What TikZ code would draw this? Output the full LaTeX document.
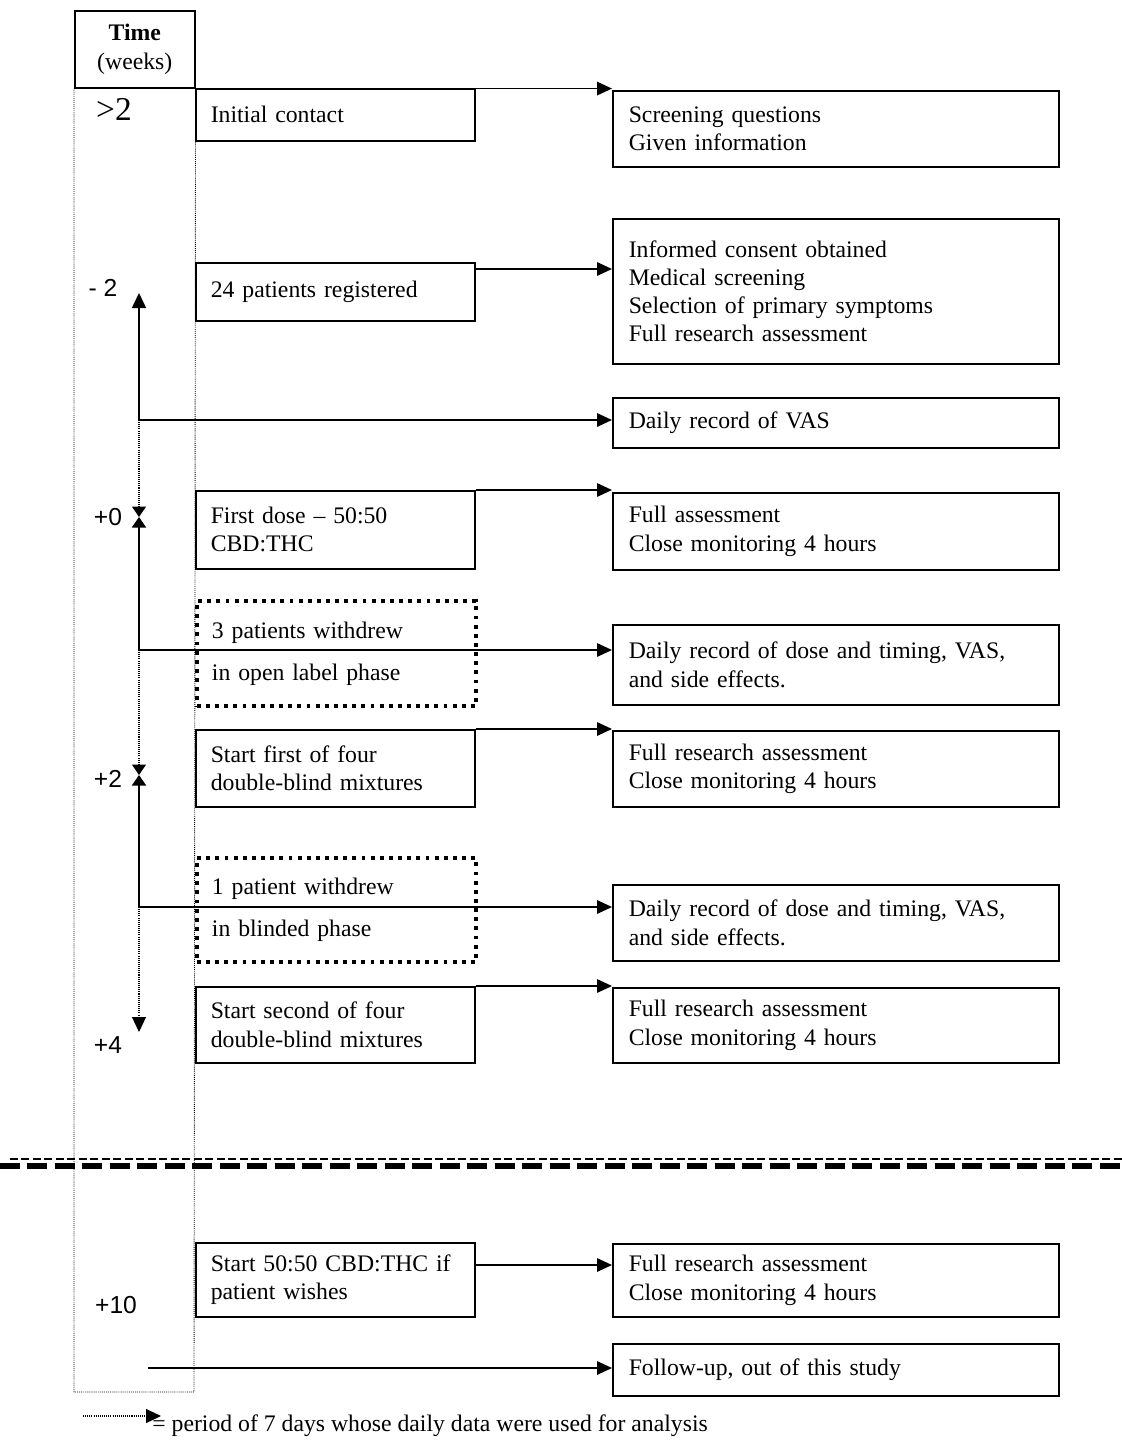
\documentclass[tikz,border=0pt]{standalone}
\usepackage{fontspec}
\setmainfont{Liberation Serif}
\newfontfamily\weekfont{Liberation Sans}
\usetikzlibrary{arrows.meta,calc,positioning}
\tikzset{
  boxtext/.style={font=\fontsize{13.5}{16}\selectfont},
  lbox/.style={boxtext, draw=black, line width=0.9pt, anchor=north west, align=left,
    text width=4.98cm, inner xsep=0.3cm, inner ysep=0pt, minimum height=#1},
  rbox/.style={boxtext, draw=black, line width=0.9pt, anchor=north west, align=left,
    text width=8.28cm, inner xsep=0.32cm, inner ysep=0pt, minimum height=#1},
  wbox/.style={lbox=#1, line width=2.2pt, dash pattern=on 2.2pt off 3pt},
  timehead/.style={boxtext, draw=black, line width=0.9pt, anchor=north west, align=center,
    minimum width=2.4cm, minimum height=1.54cm, inner sep=0pt},
  weeklabel/.style={font=\weekfont\fontsize{14}{16}\selectfont, inner sep=0pt},
  column/.style={line width=0.5pt, dash pattern=on 0.5pt off 0.6pt},
  harrow/.style={line width=0.9pt, -{Triangle[length=0.3cm,width=0.27cm]}},
  vline/.style={line width=0.9pt},
  period/.style={line width=0.6pt, dash pattern=on 0.6pt off 0.6pt},
  longtip/.style={-{Triangle[length=0.3cm,width=0.28cm]}},
  shorttip/.style={-{Triangle[length=0.21cm,width=0.28cm]}},
}
\begin{document}
\begin{tikzpicture}[x=0.02cm, y=-0.02cm]
\useasboundingbox (0,0) rectangle (1122,1440);

% the time column

    \node[timehead] (time) at (74,10) {\textbf{Time}\\(weeks)};
    \draw[column] (time.south west) -- (74,1392) -- (194,1392) -- (time.south east);

    \node[weeklabel, font=\fontsize{19}{21}\selectfont] (wgt) at (114,109) {>2};
    \node[weeklabel] (wm2) at (103,288) {- 2};
    \node[weeklabel] (w0) at (108,517) {+0};
    \node[weeklabel] (w2) at (108,779) {+2};
    \node[weeklabel] (w4) at (108,1045) {+4};
    \node[weeklabel] (w10) at (116,1305) {+10};

% events (left)

    \node[lbox=1.04cm] (init) at (195,88) {Initial contact};
    \node[lbox=1.16cm] (reg) at (195,262) {24 patients registered};
    \node[lbox=1.56cm] (dose) at (195,490) {First dose -- 50:50\\CBD:THC};
    \node[wbox=2.1cm] (wd1) at (195,599) {3 patients withdrew\\[7.8pt]in open label phase};
    \node[lbox=1.54cm] (mixa) at (195,729) {Start first of four\\double-blind mixtures};
    \node[wbox=2.08cm] (wd2) at (195,856) {1 patient withdrew\\[7.8pt]in blinded phase};
    \node[lbox=1.52cm] (mixb) at (195,986) {Start second of four\\double-blind mixtures};
    \node[lbox=1.48cm] (open) at (195,1242) {Start 50:50 CBD:THC if\\patient wishes};

% what is done (right)

    \node[rbox=1.52cm] (screen) at (612,90) {Screening questions\\Given information};
    \node[rbox=2.9cm] (consent) at (612,218) {Informed consent obtained\\Medical screening\\Selection of primary symptoms\\Full research assessment};
    \node[rbox=1.0cm] (vas) at (612,397) {Daily record of VAS};
    \node[rbox=1.54cm] (fulla) at (612,492) {Full assessment\\Close monitoring 4 hours};
    \node[rbox=1.6cm] (dailya) at (612,624) {Daily record of dose and timing, VAS,\\and side effects.};
    \node[rbox=1.52cm] (fullb) at (612,730) {Full research assessment\\Close monitoring 4 hours};
    \node[rbox=1.52cm] (dailyb) at (612,884) {Daily record of dose and timing, VAS,\\and side effects.};
    \node[rbox=1.5cm] (fullc) at (612,987) {Full research assessment\\Close monitoring 4 hours};
    \node[rbox=1.46cm] (fulld) at (612,1243) {Full research assessment\\Close monitoring 4 hours};
    \node[rbox=1.04cm] (follow) at (612,1343) {Follow-up, out of this study};

% the periods

    \coordinate (hv1) at (139,420);
    \coordinate (hv2) at (139,650);
    \coordinate (hv3) at (139,907);
    \coordinate (tm2) at (139,293);
    \coordinate (t0) at (139,517);
    \coordinate (t2) at (139,775);
    \coordinate (t4) at (139,1032);
    \coordinate (fup) at (148,1368);

    \draw[vline, longtip] (hv1) -- (tm2);
    \draw[period, shorttip] (hv1) -- (t0);
    \draw[vline, shorttip] (hv2) -- (t0);
    \draw[period, shorttip] (hv2) -- (t2);
    \draw[vline, shorttip] (hv3) -- (t2);
    \draw[period, longtip] (hv3) -- (t4);

% the arrows

    \draw[harrow] (time.south east) -- (time.south east -| screen.west);
    \coordinate (rega) at ([yshift=-0.14cm]reg.north east);
    \draw[harrow] (rega) -- (rega -| consent.west);
    \draw[harrow] (hv1) -- (hv1 -| vas.west);
    \draw[harrow] (dose.north east) -- (dose.north east -| fulla.west);
    \draw[harrow] (hv2) -- (hv2 -| dailya.west);
    \draw[harrow] (mixa.north east) -- (mixa.north east -| fullb.west);
    \draw[harrow] (hv3) -- (hv3 -| dailyb.west);
    \draw[harrow] (mixb.north east) -- (mixb.north east -| fullc.west);
    \coordinate (opena) at ([yshift=-0.46cm]open.north east);
    \draw[harrow] (opena) -- (opena -| fulld.west);
    \draw[harrow] (fup) -- (fup -| follow.west);

% the break

    \draw[line width=1pt, dash pattern=on 0.16cm off 0.07cm] (10,1159) -- (1122,1159);
    \draw[line width=3.4pt, dash pattern=on 0.4cm off 0.15cm] (0,1166) -- (1122,1166);

% the key

    \coordinate (keya) at (83,1416);
    \coordinate (keyb) at (161,1416);
    \draw[period, longtip] (keya) -- (keyb);
    \node[boxtext, anchor=west, inner sep=0pt] (keytext) at (152,1426) {= period of 7 days whose daily data were used for analysis};

\end{tikzpicture}
\end{document}
